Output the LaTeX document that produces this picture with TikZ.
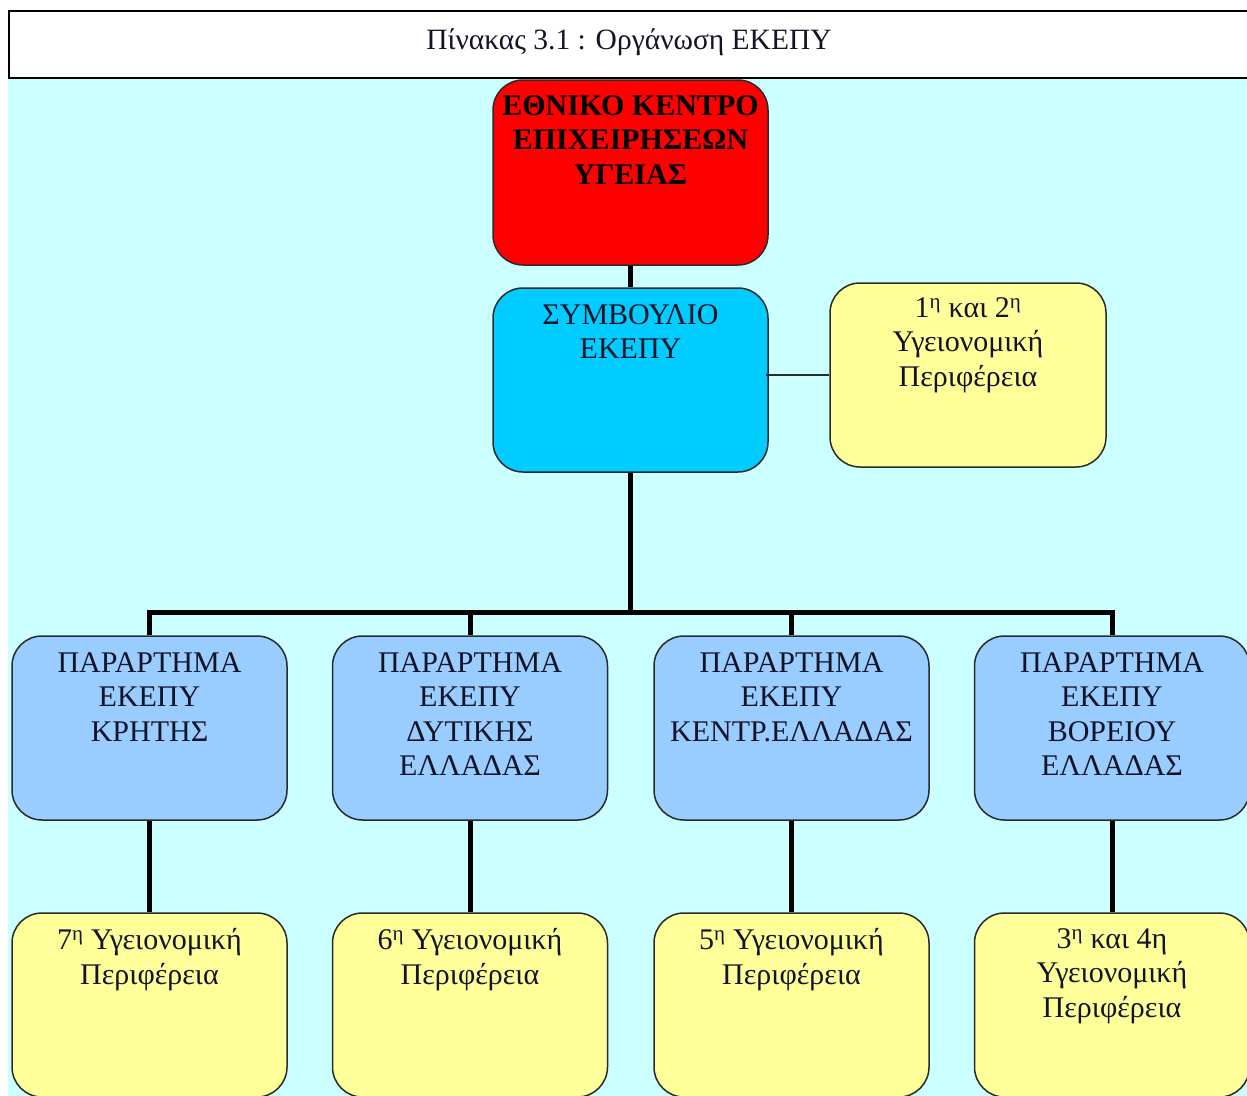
\documentclass[tikz,border=0pt]{standalone}
\usepackage{fontspec}
\setmainfont{Liberation Serif}
\definecolor{bgcyan}{HTML}{CCFFFF}
\definecolor{boxred}{HTML}{FF0000}
\definecolor{boxsky}{HTML}{00CCFF}
\definecolor{boxlblue}{HTML}{99CCFF}
\definecolor{boxyellow}{HTML}{FFFF99}
\definecolor{edgecol}{HTML}{2A2A2A}
\definecolor{inkcol}{HTML}{141428}
\tikzset{
  orgbox/.style={draw=edgecol, line width=1.5pt, rounded corners=30pt,
    minimum width=275pt, minimum height=184pt, inner sep=0pt},
  boxtext/.style={anchor=north, inner sep=0pt, align=center,
    font=\fontsize{30}{34.5}\selectfont, text=inkcol},
  thickline/.style={line width=5pt, black},
  thinline/.style={line width=1.2pt, edgecol},
}
\begin{document}
\begin{tikzpicture}[x=1pt, y=-1pt]
\useasboundingbox (0,0) rectangle (1247,1095);
\clip (0,0) rectangle (1247,1095);
% background
\fill[white] (0,0) rectangle (1247,1095);
\fill[bgcyan] (8,77) rectangle (1260,1110);
\node[draw=black, line width=1.5pt, fill=white, minimum width=1260pt, minimum height=67pt,
  inner sep=0pt, anchor=north west] (title) at (8,10) {};
\node[font=\fontsize{29.5}{32}\selectfont, inner sep=0pt, text=inkcol] (titletext) at (629,42) {Πίνακας 3.1 : Οργάνωση ΕΚΕΠΥ};

% boxes
\node[orgbox, fill=boxred, minimum height=185pt] (ekepy) at (630.5,172.5) {};
\node[boxtext, font=\fontsize{30}{34.5}\selectfont\bfseries, text=black] (ekepyt) at ([yshift=-16pt]ekepy.north) {ΕΘΝΙΚΟ ΚΕΝΤΡΟ\\ΕΠΙΧΕΙΡΗΣΕΩΝ\\ΥΓΕΙΑΣ};

\node[orgbox, fill=boxsky] (symb) at (630.5,380) {};
\node[boxtext] (symbt) at ([yshift=-17pt]symb.north) {ΣΥΜΒΟΥΛΙΟ\\ΕΚΕΠΥ};

\node[orgbox, fill=boxyellow, minimum width=276pt] (yp12) at (968,375) {};
\node[boxtext] (yp12t) at ([yshift=-15pt]yp12.north) {1\textsuperscript{η} και 2\textsuperscript{η}\\Υγειονομική\\Περιφέρεια};

\node[orgbox, fill=boxlblue] (p1) at (149.5,728) {};
\node[orgbox, fill=boxlblue] (p2) at (470,728) {};
\node[orgbox, fill=boxlblue] (p3) at (791.5,728) {};
\node[orgbox, fill=boxlblue] (p4) at (1112,728) {};
\node[boxtext] (p1t) at ([yshift=-17pt]p1.north) {ΠΑΡΑΡΤΗΜΑ\\ΕΚΕΠΥ\\ΚΡΗΤΗΣ};
\node[boxtext] (p2t) at ([yshift=-17pt]p2.north) {ΠΑΡΑΡΤΗΜΑ\\ΕΚΕΠΥ\\ΔΥΤΙΚΗΣ\\ΕΛΛΑΔΑΣ};
\node[boxtext] (p3t) at ([yshift=-17pt]p3.north) {ΠΑΡΑΡΤΗΜΑ\\ΕΚΕΠΥ\\ΚΕΝΤΡ.ΕΛΛΑΔΑΣ};
\node[boxtext] (p4t) at ([yshift=-17pt]p4.north) {ΠΑΡΑΡΤΗΜΑ\\ΕΚΕΠΥ\\ΒΟΡΕΙΟΥ\\ΕΛΛΑΔΑΣ};

\node[orgbox, fill=boxyellow] (r1) at (149.5,1005) {};
\node[orgbox, fill=boxyellow] (r2) at (470,1005) {};
\node[orgbox, fill=boxyellow] (r3) at (791.5,1005) {};
\node[orgbox, fill=boxyellow] (r4) at (1112,1005) {};
\node[boxtext] (r1t) at ([yshift=-16pt]r1.north) {7\textsuperscript{η} Υγειονομική\\Περιφέρεια};
\node[boxtext] (r2t) at ([yshift=-16pt]r2.north) {6\textsuperscript{η} Υγειονομική\\Περιφέρεια};
\node[boxtext] (r3t) at ([yshift=-16pt]r3.north) {5\textsuperscript{η} Υγειονομική\\Περιφέρεια};
\node[boxtext] (r4t) at ([yshift=-16pt]r4.north) {3\textsuperscript{η} και 4η\\Υγειονομική\\Περιφέρεια};

% connectors between named boxes
\coordinate (bar) at (630.5,612);
\draw[thickline] (ekepy.south) -- (symb.north);
\draw[thickline] (symb.south) -- (bar);
\draw[thickline] (bar) -| (p1.north);
\draw[thickline] (bar) -| (p2.north);
\draw[thickline] (bar) -| (p3.north);
\draw[thickline] (bar) -| (p4.north);
\draw[thickline] (p1.south) -- (r1.north);
\draw[thickline] (p2.south) -- (r2.north);
\draw[thickline] (p3.south) -- (r3.north);
\draw[thickline] (p4.south) -- (r4.north);
\draw[thinline] (yp12.west) -- ([xshift=-3pt]yp12.west -| symb.east);
\end{tikzpicture}
\end{document}
